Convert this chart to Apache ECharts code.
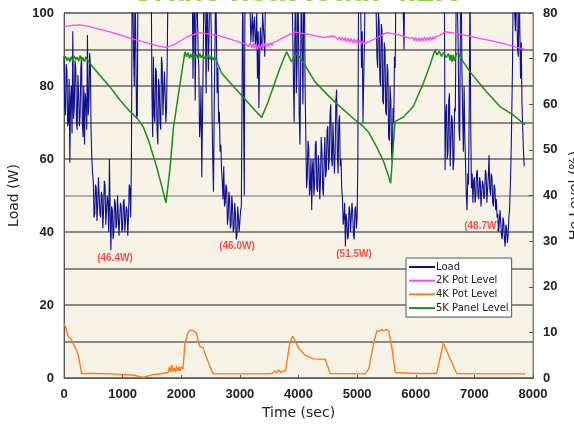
<!DOCTYPE html>
<html><head><meta charset="utf-8">
<script src="https://cdn.jsdelivr.net/npm/echarts@6/dist/echarts.min.js"></script>
<style>html,body{margin:0;padding:0;background:#fff;}#c{width:574px;height:426px;}</style>
</head><body><div id="c"></div>
<script>
// ---- data ----
const seriesNames = ['Load', '2K Pot Level', '4K Pot Level', '5K Panel Level'];
const loadStep = 12.5; // sampling interval of the load trace (sec)
const loadW = [
 88,74,72,86,84,69,70,82,59,77,80,67,95,71,74,87,85,70,68,83,78,69,72,85,88,70,66,80,64,78,76,68,94,72,75,89,86,67,60,56,
 54,44,45,53,52,43,47,55,55,45,44,51,50,41,46,54,53,42,42,50,48,40,60,45,35,47,46,38,40,49,48,41,42,50,45,39,39,48,47,40,
 41,48,49,40,40,47,46,39,44,53,52,44,60,110,105,88,80,110,110,71,72,110,110,110,110,110,110,110,110,110,110,110,110,110,110,110,110,110,110,110,
 78,66,88,72,70,85,84,68,64,82,80,70,68,88,86,72,72,84,78,70,74,90,110,110,110,110,110,110,110,110,110,110,110,110,110,110,110,110,110,110,
 110,110,110,110,110,110,110,110,110,110,110,110,110,110,110,110,82,100,110,76,95,110,110,90,85,66,70,80,55,72,88,110,110,96,78,110,110,84,95,110,
 110,95,72,60,51,75,90,110,110,78,85,70,73,62,64,57,54,49,58,47,48,53,52,42,44,51,49,41,42,50,47,40,41,48,45,38,39,47,44,40,
 40,46,47,80,110,75,50,110,110,110,110,110,110,110,110,92,96,100,92,97,99,91,93,100,82,95,74,88,96,91,90,100,100,93,88,110,110,110,110,110,
 110,110,110,110,110,110,110,110,110,110,110,110,110,110,110,110,110,110,110,110,110,110,110,110,110,110,110,110,110,110,110,110,110,110,70,92,110,78,85,110,
 95,72,64,88,110,110,75,100,110,80,66,52,55,65,63,50,52,60,46,58,60,50,53,64,65,52,51,61,58,49,54,66,62,52,50,60,66,55,57,68,
 69,57,60,72,75,60,58,70,70,56,62,76,79,61,56,70,72,58,60,52,49,42,44,48,36,45,43,38,39,47,46,40,40,48,45,39,38,46,47,41,
 44,60,110,110,110,100,85,95,70,82,92,110,110,110,110,110,110,110,110,110,110,110,110,110,110,110,100,88,85,100,98,82,80,97,95,76,75,92,90,73,
 72,86,84,66,65,80,76,62,59,74,70,88,85,110,110,110,110,110,110,110,110,110,110,110,90,110,110,110,110,110,110,110,110,110,110,110,110,110,110,110,
 110,110,110,110,110,110,110,110,110,110,110,110,110,110,110,110,110,110,110,110,110,110,110,110,110,110,110,110,110,110,110,110,110,110,110,110,110,110,110,110,
 57,72,75,60,62,76,78,58,58,72,70,57,60,74,73,100,110,110,90,68,65,100,110,85,72,62,80,66,58,50,46,56,53,75,110,70,52,56,48,54,
 55,48,50,56,57,50,49,55,54,47,47,54,53,49,50,57,56,48,48,55,61,52,50,56,55,48,47,53,52,46,49,44,45,40,40,46,46,39,38,44,
 43,38,36,42,41,37,39,44,46,52,60,72,85,110,110,100,95,110,110,90,88,110,110,82,92,75,68,62,58
];
const pot2T = [0,150,273,400,500,800,1100,1400,1600,1751,1900,2100,2320,2500,2660,2900,3100,
 3125,3150,3175,3200,3225,3250,3275,3300,3325,3350,3375,3400,3425,3450,3475,3500,3525,3550,3575,3600,3625,3650,
 3800,3940,4100,4300,4450,4566,4620,
 4650,4675,4700,4725,4750,4775,4800,4825,4850,4875,4900,4925,4950,4975,5000,5025,5050,5075,5100,5125,5150,
 5300,5504,5700,5900,
 5950,5975,6000,6025,6050,6075,6100,6125,6150,6175,6200,6225,6250,6275,6300,6325,6350,6375,6400,
 6500,6700,6900,7100,7300,7500,7700,7865];
const pot2V = [77.0,77.3,77.4,77.1,76.8,75.8,74.6,73.5,72.8,72.4,73.2,74.8,75.7,75.3,75.0,74.0,73.2,
 73.4,72.6,73.5,72.4,73.3,72.2,73.2,72.0,73.1,72.1,73.2,72.3,73.3,72.5,73.4,72.7,73.5,72.9,73.6,73.2,73.8,73.6,
 75.0,75.8,75.5,75.0,74.6,75.0,74.8,
 74.9,74.2,74.8,74.0,74.7,73.9,74.6,73.8,74.5,73.6,74.4,73.5,74.3,73.4,74.2,73.3,74.0,73.2,73.9,73.3,73.6,
 74.3,75.7,75.2,74.5,
 74.6,73.9,74.6,73.8,74.6,73.8,74.6,73.9,74.7,73.9,74.7,74.0,74.8,74.1,74.8,74.3,74.9,74.5,75.0,
 75.9,75.5,75.0,74.4,73.9,73.3,72.6,72.0];
const pot4T = [0,30,73,130,200,245,300,500,800,1000,1200,1350,1500,1670,
 1780,1800,1820,1840,1860,1880,1900,1920,1940,1960,1980,2000,2030,
 2063,2110,2150,2180,2200,2230,2260,2300,2320,2375,2420,2490,2545,3000,3400,
 3550,3600,3630,3660,3700,3740,3780,
 3850,3900,3950,4000,4113,4250,4455,4500,4540,5135,5200,5280,5338,5380,5420,5460,5500,5540,5565,5600,5650,
 6000,6357,6470,6698,7000,7865];
const pot4V = [12.0,11.0,9.1,8.3,6.5,5.0,1.0,1.0,0.9,0.8,0.6,0.15,0.7,1.0,
 1.2,2.5,1.3,2.8,1.4,2.2,1.3,2.6,1.5,2.4,1.6,2.5,2.0,
 7.6,9.8,10.5,10.9,10.4,10.8,9.9,7.5,6.9,6.6,4.8,2.5,0.9,0.9,0.9,
 1.0,1.6,1.1,1.8,1.2,1.5,1.6,
 7.6,9.2,8.0,6.5,5.0,4.2,4.1,2.5,1.0,0.9,2.0,7.6,10.4,10.2,10.6,10.3,10.7,10.3,10.4,6.0,1.2,
 1.0,1.0,7.6,1.0,0.9,0.9];
const panelT = [0,25,50,75,100,125,150,175,200,225,250,275,300,325,350,375,400,440,600,785,950,1125,1250,1350,1450,1580,1680,1740,1808,1865,1950,2063,
 2090,2115,2140,2165,2190,2215,2240,2265,2290,2315,2340,2365,2390,2415,2440,2465,2490,2515,2540,2565,2600,
 2690,2900,3087,3250,3372,3480,3600,3700,3797,3882,3967,4100,4282,4500,4678,4963,5100,5200,5330,5450,5530,5572,
 5646,5800,5958,6130,6243,6328,
 6360,6400,6440,6480,6520,6560,6584,6600,6620,6640,6660,6690,6726,6800,6925,7210,7437,7665,7863];
const panelV = [69.7,70.5,69.6,70.2,69.3,70.4,69.5,70.6,69.8,70.3,69.4,70.7,69.6,70.2,69.3,70.4,69.7,69.0,66.5,63.8,61.0,58.4,56.9,55.1,51.8,46.3,41.4,38.4,45.9,54.7,62.0,71.5,
 70.4,71.3,70.1,71.0,70.0,71.2,70.3,70.9,69.9,71.1,70.2,70.8,69.9,70.7,70.0,70.9,69.8,70.6,69.7,70.3,69.6,
 66.8,63.8,61.1,58.8,57.1,60.5,64.9,68.5,71.5,69.3,71.2,68.8,64.9,62.0,59.8,56.6,55.2,53.8,50.7,47.5,44.5,42.7,
 56.2,57.3,59.5,64.6,68.6,71.9,
 70.8,71.6,70.5,71.4,70.2,71.1,69.6,70.9,69.3,70.8,69.5,71.0,71.2,69.5,67.1,62.7,59.5,57.6,55.5];
const noteText = ['(46.4W)', '(46.0W)', '(51.5W)', '(48.7W)'];
const noteTime = [870, 2951, 4947, 7130];
const noteLoad = [32.9, 36.2, 34.0, 41.6];
const xTickMax = 8000, loadMax = 100, levelMax = 80;

// ---- chart ----
const zip = (t, v) => t.map((x, i) => [x, v[i]]);
const chart = echarts.init(document.getElementById('c'), null, {renderer: 'canvas'});
const gridColors = ['#666','#666','#666','#666','#666','#9a9a9a','#666','#666','#666','#666','#666'];
chart.setOption({
  animation: false,
  backgroundColor: '#ffffff',
  graphic: [{
    type: 'text', x: 294, y: 8.5, z: 100,
    style: {text: 'Crane heat load: 4.2K', font: 'bold 32px "Liberation Sans"', fill: '#8fd14f',
      align: 'center', verticalAlign: 'bottom'}
  }],
  grid: {left: 64, right: 41, top: 13, bottom: 48, show: true, outerBoundsMode: 'none', containLabel: false,
    backgroundColor: '#f7f3e6', borderColor: '#808080', borderWidth: 1},
  legend: {
    data: seriesNames, orient: 'vertical', left: 406, top: 258,
    backgroundColor: '#ffffff', borderColor: '#555', borderWidth: 1,
    padding: [4, 3, 4, 3], itemGap: 3.7, itemWidth: 26, itemHeight: 2, icon: 'rect',
    textStyle: {fontFamily: 'DejaVu Sans', fontSize: 10, color: '#222', padding: [0, 0, 0, -4]}
  },
  xAxis: {
    type: 'value', min: 0, max: xTickMax, interval: 1000,
    name: 'Time (sec)', nameLocation: 'middle', nameGap: 25,
    nameTextStyle: {fontFamily: 'DejaVu Sans', fontSize: 14, color: '#222'},
    axisLine: {lineStyle: {color: '#555', width: 1}},
    axisTick: {inside: true, length: 3, lineStyle: {color: '#555'}},
    axisLabel: {fontFamily: 'Liberation Sans', fontWeight: 'bold', fontSize: 13, color: '#222', margin: 10,
      formatter: v => String(v)},
    splitLine: {show: false}
  },
  yAxis: [{
    type: 'value', min: 0, max: loadMax, interval: 10,
    name: 'Load (W)', nameLocation: 'middle', nameGap: 34, nameRotate: 90,
    nameTextStyle: {fontFamily: 'DejaVu Sans', fontSize: 14, color: '#222'},
    axisLine: {show: true, lineStyle: {color: '#555'}},
    axisTick: {show: false},
    axisLabel: {fontFamily: 'Liberation Sans', fontWeight: 'bold', fontSize: 13, color: '#222', margin: 10,
      formatter: v => (v % 20 === 0 ? String(v) : '')},
    splitLine: {show: true, lineStyle: {color: gridColors, width: 1.5}}
  }, {
    type: 'value', min: 0, max: levelMax, interval: 10, position: 'right',
    name: 'He Level (%)', nameLocation: 'middle', nameGap: 32, nameRotate: 90,
    nameTextStyle: {fontFamily: 'DejaVu Sans', fontSize: 14, color: '#222'},
    axisLine: {show: true, lineStyle: {color: '#808080'}},
    axisTick: {show: true, inside: true, length: 4, lineStyle: {color: '#555'}},
    axisLabel: {fontFamily: 'Liberation Sans', fontWeight: 'bold', fontSize: 13, color: '#222', margin: 10},
    splitLine: {show: false}
  }],
  series: [{
    name: seriesNames[0], type: 'line', yAxisIndex: 0, symbol: 'none', clip: true,
    color: '#10108c', lineStyle: {width: 1.1, color: '#10108c'},
    data: loadW.map((v, i) => [i * loadStep, v])
  }, {
    name: seriesNames[1], type: 'line', yAxisIndex: 1, symbol: 'none',
    color: '#ff44ff', lineStyle: {width: 1.3, color: '#ff44ff'},
    data: zip(pot2T, pot2V)
  }, {
    name: seriesNames[2], type: 'line', yAxisIndex: 1, symbol: 'none',
    color: '#ff7b1c', lineStyle: {width: 1.4, color: '#ff7b1c'},
    data: zip(pot4T, pot4V)
  }, {
    name: seriesNames[3], type: 'line', yAxisIndex: 1, symbol: 'none',
    color: '#1c8c1c', lineStyle: {width: 1.5, color: '#1c8c1c'},
    data: zip(panelT, panelV)
  }, {
    name: 'notes', type: 'scatter', yAxisIndex: 0, symbolSize: 1, itemStyle: {color: 'rgba(0,0,0,0)'},
    label: {show: true, position: 'inside', formatter: p => p.value[2],
      fontFamily: 'Liberation Sans', fontWeight: 'bold', fontSize: 10, color: '#ff2020'},
    data: noteTime.map((t, i) => [t, noteLoad[i], noteText[i]])
  }]
});
</script></body></html>
